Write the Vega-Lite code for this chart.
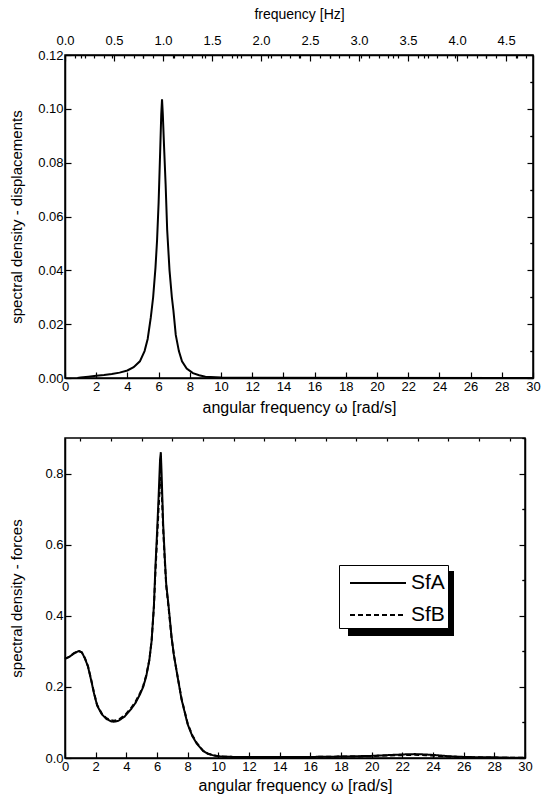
{
  "$schema": "https://vega.github.io/schema/vega-lite/v6.json",
  "background": "white",
  "padding": {"left": 8, "top": 6, "right": 0, "bottom": 0},
  "spacing": 20,
  "config": {
    "font": "Liberation Sans",
    "view": {"stroke": "black", "strokeWidth": 1.5},
    "axis": {
      "grid": false,
      "domainColor": "black",
      "domainWidth": 1.5,
      "tickColor": "black",
      "tickWidth": 1.2,
      "labelColor": "black",
      "titleColor": "black",
      "titleFontWeight": "normal",
      "labelFontSize": 13,
      "titleFontSize": 16,
      "labelFont": "Liberation Sans",
      "titleFont": "Liberation Sans",
      "labelFlush": false,
      "labelOverlap": false
    }
  },
  "datasets": {
    "top": [
      {"w": 0.8, "v": 0.0},
      {"w": 1.0, "v": 0.0002},
      {"w": 1.5, "v": 0.0005},
      {"w": 2.0, "v": 0.0008},
      {"w": 2.5, "v": 0.0011},
      {"w": 3.0, "v": 0.0015},
      {"w": 3.5, "v": 0.002},
      {"w": 4.0, "v": 0.0028},
      {"w": 4.4, "v": 0.004},
      {"w": 4.8, "v": 0.0062},
      {"w": 5.1, "v": 0.01},
      {"w": 5.3, "v": 0.0145},
      {"w": 5.5, "v": 0.0225},
      {"w": 5.65, "v": 0.03},
      {"w": 5.8, "v": 0.041},
      {"w": 5.9, "v": 0.051},
      {"w": 6.0, "v": 0.065},
      {"w": 6.1, "v": 0.084},
      {"w": 6.17, "v": 0.098},
      {"w": 6.22, "v": 0.1035},
      {"w": 6.27, "v": 0.098},
      {"w": 6.35, "v": 0.086},
      {"w": 6.45, "v": 0.072},
      {"w": 6.55, "v": 0.055},
      {"w": 6.7, "v": 0.04},
      {"w": 6.85, "v": 0.03},
      {"w": 6.95, "v": 0.025},
      {"w": 7.1, "v": 0.016},
      {"w": 7.3, "v": 0.01},
      {"w": 7.5, "v": 0.0062},
      {"w": 7.8, "v": 0.0035},
      {"w": 8.2, "v": 0.0018},
      {"w": 8.6, "v": 0.001},
      {"w": 9.0, "v": 0.0005},
      {"w": 10.0, "v": 0.0002},
      {"w": 12.0, "v": 0.0001},
      {"w": 30.0, "v": 0.0}
    ],
    "bottom": [
      {"w": 0.0, "series": "SfA", "v": 0.279},
      {"w": 0.3, "series": "SfA", "v": 0.285},
      {"w": 0.6, "series": "SfA", "v": 0.295},
      {"w": 0.9, "series": "SfA", "v": 0.301},
      {"w": 1.1, "series": "SfA", "v": 0.297},
      {"w": 1.3, "series": "SfA", "v": 0.28},
      {"w": 1.5, "series": "SfA", "v": 0.257},
      {"w": 1.7, "series": "SfA", "v": 0.22},
      {"w": 1.9, "series": "SfA", "v": 0.18},
      {"w": 2.1, "series": "SfA", "v": 0.147},
      {"w": 2.4, "series": "SfA", "v": 0.123},
      {"w": 2.7, "series": "SfA", "v": 0.11},
      {"w": 3.0, "series": "SfA", "v": 0.103},
      {"w": 3.2, "series": "SfA", "v": 0.102},
      {"w": 3.5, "series": "SfA", "v": 0.105},
      {"w": 3.9, "series": "SfA", "v": 0.117},
      {"w": 4.3, "series": "SfA", "v": 0.137},
      {"w": 4.6, "series": "SfA", "v": 0.155},
      {"w": 4.9, "series": "SfA", "v": 0.18},
      {"w": 5.1, "series": "SfA", "v": 0.2},
      {"w": 5.3, "series": "SfA", "v": 0.23},
      {"w": 5.5, "series": "SfA", "v": 0.275},
      {"w": 5.65, "series": "SfA", "v": 0.33},
      {"w": 5.8, "series": "SfA", "v": 0.43},
      {"w": 5.9, "series": "SfA", "v": 0.54},
      {"w": 6.0, "series": "SfA", "v": 0.63},
      {"w": 6.1, "series": "SfA", "v": 0.73},
      {"w": 6.2, "series": "SfA", "v": 0.84},
      {"w": 6.25, "series": "SfA", "v": 0.86},
      {"w": 6.3, "series": "SfA", "v": 0.8},
      {"w": 6.4, "series": "SfA", "v": 0.66},
      {"w": 6.5, "series": "SfA", "v": 0.57},
      {"w": 6.6, "series": "SfA", "v": 0.49},
      {"w": 6.75, "series": "SfA", "v": 0.43},
      {"w": 6.95, "series": "SfA", "v": 0.34},
      {"w": 7.1, "series": "SfA", "v": 0.29},
      {"w": 7.3, "series": "SfA", "v": 0.239},
      {"w": 7.6, "series": "SfA", "v": 0.165},
      {"w": 8.0, "series": "SfA", "v": 0.095},
      {"w": 8.3, "series": "SfA", "v": 0.062},
      {"w": 8.6, "series": "SfA", "v": 0.04},
      {"w": 9.0, "series": "SfA", "v": 0.02},
      {"w": 9.3, "series": "SfA", "v": 0.012},
      {"w": 9.7, "series": "SfA", "v": 0.007},
      {"w": 10.2, "series": "SfA", "v": 0.004},
      {"w": 11.0, "series": "SfA", "v": 0.003},
      {"w": 12.0, "series": "SfA", "v": 0.003},
      {"w": 14.0, "series": "SfA", "v": 0.003},
      {"w": 16.0, "series": "SfA", "v": 0.003},
      {"w": 18.0, "series": "SfA", "v": 0.004},
      {"w": 19.0, "series": "SfA", "v": 0.005},
      {"w": 20.0, "series": "SfA", "v": 0.006},
      {"w": 21.0, "series": "SfA", "v": 0.008},
      {"w": 22.0, "series": "SfA", "v": 0.01},
      {"w": 22.8, "series": "SfA", "v": 0.011},
      {"w": 23.5, "series": "SfA", "v": 0.01},
      {"w": 24.2, "series": "SfA", "v": 0.008},
      {"w": 25.0, "series": "SfA", "v": 0.005},
      {"w": 26.0, "series": "SfA", "v": 0.003},
      {"w": 27.0, "series": "SfA", "v": 0.002},
      {"w": 28.0, "series": "SfA", "v": 0.002},
      {"w": 29.0, "series": "SfA", "v": 0.001},
      {"w": 30.0, "series": "SfA", "v": 0.001},
      {"w": 0.0, "series": "SfB", "v": 0.279},
      {"w": 0.3, "series": "SfB", "v": 0.285},
      {"w": 0.6, "series": "SfB", "v": 0.295},
      {"w": 0.9, "series": "SfB", "v": 0.301},
      {"w": 1.1, "series": "SfB", "v": 0.297},
      {"w": 1.3, "series": "SfB", "v": 0.281},
      {"w": 1.5, "series": "SfB", "v": 0.258},
      {"w": 1.7, "series": "SfB", "v": 0.222},
      {"w": 1.9, "series": "SfB", "v": 0.182},
      {"w": 2.1, "series": "SfB", "v": 0.149},
      {"w": 2.4, "series": "SfB", "v": 0.125},
      {"w": 2.7, "series": "SfB", "v": 0.112},
      {"w": 3.0, "series": "SfB", "v": 0.106},
      {"w": 3.2, "series": "SfB", "v": 0.105},
      {"w": 3.5, "series": "SfB", "v": 0.108},
      {"w": 3.9, "series": "SfB", "v": 0.12},
      {"w": 4.3, "series": "SfB", "v": 0.14},
      {"w": 4.6, "series": "SfB", "v": 0.158},
      {"w": 4.9, "series": "SfB", "v": 0.183},
      {"w": 5.1, "series": "SfB", "v": 0.203},
      {"w": 5.3, "series": "SfB", "v": 0.233},
      {"w": 5.5, "series": "SfB", "v": 0.276},
      {"w": 5.65, "series": "SfB", "v": 0.33},
      {"w": 5.8, "series": "SfB", "v": 0.425},
      {"w": 5.9, "series": "SfB", "v": 0.525},
      {"w": 6.0, "series": "SfB", "v": 0.61},
      {"w": 6.1, "series": "SfB", "v": 0.7},
      {"w": 6.2, "series": "SfB", "v": 0.775},
      {"w": 6.25, "series": "SfB", "v": 0.79},
      {"w": 6.3, "series": "SfB", "v": 0.76},
      {"w": 6.4, "series": "SfB", "v": 0.645},
      {"w": 6.5, "series": "SfB", "v": 0.56},
      {"w": 6.6, "series": "SfB", "v": 0.485},
      {"w": 6.75, "series": "SfB", "v": 0.425},
      {"w": 6.95, "series": "SfB", "v": 0.338},
      {"w": 7.1, "series": "SfB", "v": 0.29},
      {"w": 7.3, "series": "SfB", "v": 0.24},
      {"w": 7.6, "series": "SfB", "v": 0.167},
      {"w": 8.0, "series": "SfB", "v": 0.097},
      {"w": 8.3, "series": "SfB", "v": 0.064},
      {"w": 8.6, "series": "SfB", "v": 0.042},
      {"w": 9.0, "series": "SfB", "v": 0.021},
      {"w": 9.3, "series": "SfB", "v": 0.013},
      {"w": 9.7, "series": "SfB", "v": 0.007},
      {"w": 10.2, "series": "SfB", "v": 0.004},
      {"w": 11.0, "series": "SfB", "v": 0.003},
      {"w": 12.0, "series": "SfB", "v": 0.003},
      {"w": 14.0, "series": "SfB", "v": 0.003},
      {"w": 16.0, "series": "SfB", "v": 0.003},
      {"w": 18.0, "series": "SfB", "v": 0.004},
      {"w": 19.0, "series": "SfB", "v": 0.004},
      {"w": 20.0, "series": "SfB", "v": 0.005},
      {"w": 21.0, "series": "SfB", "v": 0.007},
      {"w": 22.0, "series": "SfB", "v": 0.008},
      {"w": 22.8, "series": "SfB", "v": 0.009},
      {"w": 23.5, "series": "SfB", "v": 0.008},
      {"w": 24.2, "series": "SfB", "v": 0.006},
      {"w": 25.0, "series": "SfB", "v": 0.004},
      {"w": 26.0, "series": "SfB", "v": 0.002},
      {"w": 27.0, "series": "SfB", "v": 0.002},
      {"w": 28.0, "series": "SfB", "v": 0.001},
      {"w": 29.0, "series": "SfB", "v": 0.001},
      {"w": 30.0, "series": "SfB", "v": 0.001}
    ]
  },
  "vconcat": [
    {
      "width": 468,
      "height": 323,
      "data": {"name": "top"},
      "resolve": {"axis": {"x": "independent", "y": "independent"}},
      "layer": [
        {
          "mark": {"type": "line", "color": "black", "strokeWidth": 2},
          "encoding": {
            "x": {"field": "w", "type": "quantitative", "scale": {"domain": [0, 30], "nice": false, "zero": false},
              "axis": {"values": [0,2,4,6,8,10,12,14,16,18,20,22,24,26,28,30], "format": "d", "tickSize": -6, "labelPadding": 8, "title": "angular frequency ω [rad/s]", "titlePadding": 6}},
            "y": {"field": "v", "type": "quantitative", "scale": {"domain": [0, 0.12], "nice": false},
              "axis": {"values": [0,0.02,0.04,0.06,0.08,0.1,0.12], "format": ".2f", "tickSize": -6, "labelPadding": 8, "title": "spectral density - displacements", "titleFontSize": 15, "titlePadding": 13}}
          }
        },
        {
          "mark": {"type": "line", "strokeOpacity": 0},
          "encoding": {
            "x": {"field": "w", "type": "quantitative", "scale": {"domain": [0, 30], "nice": false, "zero": false},
              "axis": {"values": [1,3,5,7,9,11,13,15,17,19,21,23,25,27,29], "labels": false, "tickSize": -3, "domain": false, "title": null}},
            "y": {"field": "v", "type": "quantitative", "scale": {"domain": [0, 0.12], "nice": false},
              "axis": {"values": [0.01,0.03,0.05,0.07,0.09,0.11], "labels": false, "tickSize": -3, "domain": false, "title": null}}
          }
        },
        {
          "mark": {"type": "line", "strokeOpacity": 0},
          "encoding": {
            "x": {"field": "w", "type": "quantitative", "scale": {"domain": [0, 30], "nice": false, "zero": false},
              "axis": {"orient": "top", "values": [0,3.14159,6.28319,9.42478,12.56637,15.70796,18.84956,21.99115,25.13274,28.27433], "labelExpr": "format(datum.value/(2*PI), '.1f')", "tickSize": -6, "labelPadding": 14, "title": "frequency [Hz]", "titleFontSize": 14, "titlePadding": 13}},
            "y": {"field": "v", "type": "quantitative", "scale": {"domain": [0, 0.12], "nice": false},
              "axis": {"orient": "right", "values": [0,0.02,0.04,0.06,0.08,0.1,0.12], "labels": false, "tickSize": -6, "title": null}}
          }
        },
        {
          "mark": {"type": "line", "strokeOpacity": 0},
          "encoding": {
            "x": {"field": "w", "type": "quantitative", "scale": {"domain": [0, 30], "nice": false, "zero": false},
              "axis": {"orient": "top", "values": [0.6283,1.2566,1.885,2.5133,3.7699,4.3982,5.0265,5.6549,6.9115,7.5398,8.1681,8.7965,10.0531,10.6814,11.3097,11.9381,13.1947,13.823,14.4513,15.0796,16.3363,16.9646,17.5929,18.2212,19.4779,20.1062,20.7345,21.3628,22.6195,23.2478,23.8761,24.5044,25.7611,26.3894,27.0177,27.646,28.9027,29.531], "labels": false, "tickSize": -3, "domain": false, "title": null}},
            "y": {"field": "v", "type": "quantitative", "scale": {"domain": [0, 0.12], "nice": false},
              "axis": {"orient": "right", "values": [0.01,0.03,0.05,0.07,0.09,0.11], "labels": false, "tickSize": -3, "domain": false, "title": null}}
          }
        }
      ]
    },
    {
      "width": 460,
      "height": 320,
      "data": {"name": "bottom"},
      "resolve": {"axis": {"x": "independent", "y": "independent"}},
      "layer": [
        {
          "mark": {"type": "rect", "color": "black"},
          "encoding": {
            "x": {"datum": 18.46, "type": "quantitative", "scale": {"domain": [0, 30], "nice": false, "zero": false}, "axis": null},
            "x2": {"datum": 25.31},
            "y": {"datum": 0.526, "type": "quantitative", "scale": {"domain": [0, 0.9], "nice": false}, "axis": null},
            "y2": {"datum": 0.343}
          }
        },
        {
          "mark": {"type": "line", "strokeWidth": 2},
          "encoding": {
            "x": {"field": "w", "type": "quantitative", "scale": {"domain": [0, 30], "nice": false, "zero": false},
              "axis": {"values": [0,2,4,6,8,10,12,14,16,18,20,22,24,26,28,30], "format": "d", "tickSize": -6, "labelPadding": 8, "title": "angular frequency ω [rad/s]", "titlePadding": 4}},
            "y": {"field": "v", "type": "quantitative", "scale": {"domain": [0, 0.9], "nice": false},
              "axis": {"values": [0,0.2,0.4,0.6,0.8], "format": ".1f", "tickSize": -6, "labelPadding": 8, "title": "spectral density - forces", "titleFontSize": 15, "titlePadding": 20}},
            "color": {"field": "series", "type": "nominal", "scale": {"range": ["black", "black"]},
              "legend": {"title": null, "orient": "none", "legendX": 274, "legendY": 510, "padding": 3, "strokeColor": "black", "fillColor": "white", "symbolType": "M-1,0H3", "symbolSize": 784, "symbolOffset": 7, "symbolStrokeWidth": 2, "labelFontSize": 21, "labelFont": "Liberation Sans", "labelColor": "black", "rowPadding": 7, "labelOffset": 32}},
            "strokeDash": {"field": "series", "type": "nominal", "scale": {"range": [[1, 0], [5, 3]]},
              "legend": {"title": null, "orient": "none", "legendX": 274, "legendY": 510, "padding": 3, "strokeColor": "black", "fillColor": "white", "symbolType": "M-1,0H3", "symbolSize": 784, "symbolOffset": 7, "symbolStrokeWidth": 2, "labelFontSize": 21, "labelFont": "Liberation Sans", "labelColor": "black", "rowPadding": 7, "labelOffset": 32}}
          }
        },
        {
          "mark": {"type": "line", "strokeOpacity": 0},
          "encoding": {
            "x": {"field": "w", "type": "quantitative", "scale": {"domain": [0, 30], "nice": false, "zero": false},
              "axis": {"values": [1,3,5,7,9,11,13,15,17,19,21,23,25,27,29], "labels": false, "tickSize": -3, "domain": false, "title": null}},
            "y": {"field": "v", "type": "quantitative", "scale": {"domain": [0, 0.9], "nice": false},
              "axis": {"values": [0.1,0.3,0.5,0.7,0.9], "labels": false, "tickSize": -3, "domain": false, "title": null}}
          }
        },
        {
          "mark": {"type": "line", "strokeOpacity": 0},
          "encoding": {
            "x": {"field": "w", "type": "quantitative", "scale": {"domain": [0, 30], "nice": false, "zero": false}, "axis": null},
            "y": {"field": "v", "type": "quantitative", "scale": {"domain": [0, 0.9], "nice": false},
              "axis": {"orient": "right", "values": [0,0.2,0.4,0.6,0.8], "labels": false, "tickSize": -6, "title": null}}
          }
        },
        {
          "mark": {"type": "line", "strokeOpacity": 0},
          "encoding": {
            "x": {"field": "w", "type": "quantitative", "scale": {"domain": [0, 30], "nice": false, "zero": false}, "axis": null},
            "y": {"field": "v", "type": "quantitative", "scale": {"domain": [0, 0.9], "nice": false},
              "axis": {"orient": "right", "values": [0.1,0.3,0.5,0.7,0.9], "labels": false, "tickSize": -3, "domain": false, "title": null}}
          }
        }
      ]
    }
  ]
}
